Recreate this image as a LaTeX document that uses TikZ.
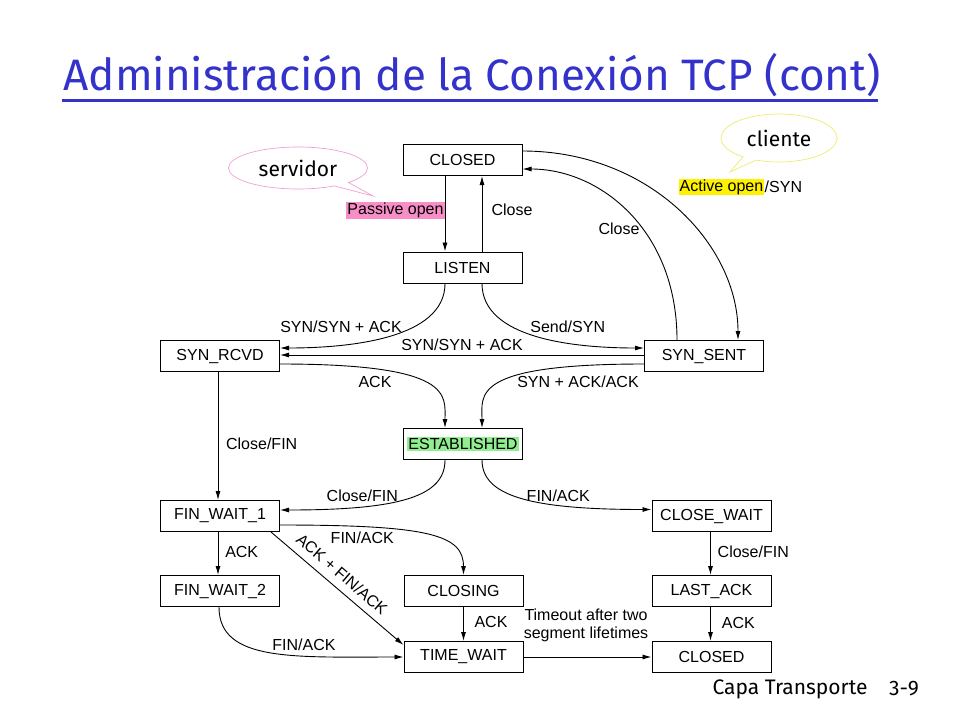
\documentclass[tikz,border=0pt]{standalone}
\usepackage{fontspec}
\setmainfont{Liberation Sans}
\newfontfamily\comic{Fira Sans}
\usetikzlibrary{arrows.meta,positioning,shapes.callouts}
\definecolor{titleblue}{RGB}{51,51,204}
\definecolor{bubblepink}{RGB}{238,160,210}
\definecolor{markpink}{RGB}{247,142,200}
\definecolor{bubbleyellow}{RGB}{236,236,110}
\definecolor{estgreen}{RGB}{144,238,144}
\setlength{\fboxsep}{1.5pt}

\begin{document}
\begin{tikzpicture}[x=1pt, y=-1pt,
		state/.style={draw, line width=1pt, minimum width=119pt, minimum height=31pt, inner sep=0pt, font=\fontsize{16}{18}\selectfont},
		lbl/.style={inner sep=1pt, font=\fontsize{16}{18}\selectfont},
		trans/.style={line width=0.9pt, -{Latex[length=9pt,width=5pt]}},
		bubble/.style={ellipse callout, line width=0.7pt, inner sep=0pt, font=\comic\fontsize{21}{24}\selectfont}]
			%%%%% START %%%%%
			\useasboundingbox (0,0) rectangle (960,720);
			
			\node[anchor=base west, text=titleblue, font=\comic\fontsize{44}{48}\selectfont] (title) at (60,90) {Administración de la Conexión TCP (cont)};
			\draw[line width=3pt, color=titleblue] (62,100) -- (878,100);
			
			\node[bubble, draw=bubblepink, minimum width=139pt, minimum height=42pt, callout absolute pointer={(373,196)}] (srv) at (298,168) {servidor};
			\node[bubble, draw=bubbleyellow, minimum width=116pt, minimum height=48pt, callout absolute pointer={(730,172)}] (cli) at (779,138) {cliente};
			
			\node[state] (ct) at (462.5,160) {CLOSED};
			\node[state] (listen) at (462.5,267.5) {LISTEN};
			\node[state] (synrcvd) at (220,356) {SYN\_RCVD};
			\node[state] (synsent) at (704,356) {SYN\_SENT};
			\node[state] (est) at (463,444) {\colorbox{estgreen}{ESTABLISHED}};
			\node[state] (fw1) at (220,516) {FIN\_WAIT\_1};
			\node[state] (closewait) at (711.5,516) {CLOSE\_WAIT};
			\node[state] (fw2) at (220,591) {FIN\_WAIT\_2};
			\node[state] (closing) at (463.5,591) {CLOSING};
			\node[state] (lastack) at (711.5,591) {LAST\_ACK};
			\node[state] (timewait) at (463.5,657) {TIME\_WAIT};
			\node[state] (cb) at (711.5,657) {CLOSED};
			
			\draw[trans] ([xshift=-17.5pt]ct.south) -- ([xshift=-17.5pt]listen.north);
			\draw[trans] ([xshift=19.5pt]listen.north) -- ([xshift=19.5pt]ct.south);
			\draw[trans] ([yshift=9pt]ct.east) .. controls (650,151) and (738,245) .. ([xshift=34pt]synsent.north);
			\draw[trans] ([xshift=-27pt]synsent.north) .. controls (677,230) and (600,169) .. ([yshift=-9pt]ct.east);
			
			\draw[trans] ([xshift=-17.5pt]listen.south) .. controls +(0,55) and +(70,0) .. ([yshift=8pt]synrcvd.east);
			\draw[trans] ([xshift=19.5pt]listen.south) .. controls +(0,55) and +(-70,0) .. ([yshift=8pt]synsent.west);
			\draw[trans] ([yshift=1pt]synsent.west) -- ([yshift=1pt]synrcvd.east);
			\draw[trans] ([yshift=-8pt]synrcvd.east) .. controls +(174,0) and +(0,-33) .. ([xshift=-18pt]est.north);
			\draw[trans] ([yshift=-8pt]synsent.west) .. controls +(-174,0) and +(0,-33) .. ([xshift=19pt]est.north);
			
			\draw[trans] ([xshift=-2pt]synrcvd.south) -- ([xshift=-2pt]fw1.north);
			\draw[trans] ([xshift=-18pt]est.south) .. controls +(0,36) and +(121,0) .. ([yshift=6pt]fw1.east);
			\draw[trans] ([xshift=19pt]est.south) .. controls +(0,36) and +(-121,0) .. ([yshift=6.5pt]closewait.west);
			
			\draw[trans] ([xshift=-2pt]fw1.south) -- ([xshift=-2pt]fw2.north);
			\draw[trans] ([yshift=-9pt]fw1.east) .. controls +(150,0) and +(0,-40) .. (closing.north);
			\draw[trans] ([xshift=51pt]fw1.south) -- ([yshift=-4pt]timewait.north west);
			\draw[trans] ([xshift=-1pt]fw2.south) .. controls +(0,55) and +(-110,0) .. (timewait.west);
			\draw[trans] (closing) -- (timewait);
			\draw[trans] (timewait) -- (cb);
			\draw[trans] ([xshift=-1pt]closewait.south) -- ([xshift=-1pt]lastack.north);
			\draw[trans] ([xshift=-1pt]lastack.south) -- ([xshift=-1pt]cb.north);
			
			\node[lbl, fill=markpink] (pasv) at (395.5,210.5) {Passive open};
			\node[lbl] (lclose) at (512,210) {Close};
			\node[lbl] (rclose) at (619,229) {Close};
			\node[lbl, fill=yellow] (act) at (721.5,187) {Active open};
			\node[lbl, right=0pt of act, inner xsep=0pt] (actsyn) {/SYN};
			
			\node[lbl] (synack1) at (341,327) {SYN/SYN + ACK};
			\node[lbl] (sendsyn) at (567.7,327) {Send/SYN};
			\node[lbl] (synack2) at (462,345) {SYN/SYN + ACK};
			\node[lbl] (ack1) at (375,382) {ACK};
			\node[lbl] (synackack) at (578,382) {SYN + ACK/ACK};
			
			\node[lbl] (closefin1) at (261.7,443.3) {Close/FIN};
			\node[lbl] (closefin2) at (362.3,495.7) {Close/FIN};
			\node[lbl] (finack1) at (558.3,495.7) {FIN/ACK};
			\node[lbl] (finack2) at (362.3,537.3) {FIN/ACK};
			\node[lbl] (ack2) at (241.7,551.7) {ACK};
			\node[lbl] (closefin3) at (753.3,551.7) {Close/FIN};
			\node[lbl, rotate=-40.8] (ackfin) at (342,574) {ACK + FIN/ACK};
			
			\node[lbl] (ack3) at (491,622.3) {ACK};
			\node[lbl, align=center] (tmo) at (586,625) {Timeout after two\\segment lifetimes};
			\node[lbl] (ack4) at (738.3,622.7) {ACK};
			\node[lbl] (finack3) at (304,645) {FIN/ACK};
			
			\node[font=\comic\fontsize{21}{24}\selectfont] (foot) at (790,689) {Capa Transporte};
			\node[font=\comic\fontsize{21}{24}\selectfont] (page) at (904,689) {3-9};
			%%%%% END %%%%%
\end{tikzpicture}
\end{document}
